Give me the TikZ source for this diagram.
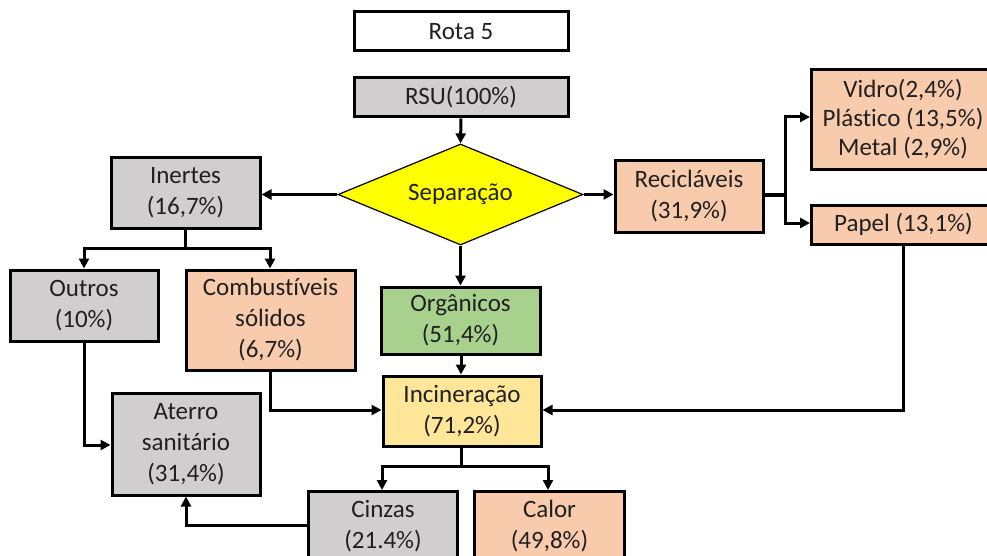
\documentclass[tikz,border=0pt]{standalone}
\usepackage{fontspec}
\setmainfont[Ligatures=NoCommon]{Carlito}
\usetikzlibrary{shapes.geometric,arrows.meta}
\definecolor{cgray}{HTML}{D0CECE}
\definecolor{corange}{HTML}{F8CBAD}
\definecolor{cgreen}{HTML}{A9D18E}
\definecolor{cyellow}{HTML}{FFE699}
\definecolor{cdiam}{HTML}{FFFF00}
\definecolor{ctext}{HTML}{202020}
\begin{document}
\begin{tikzpicture}[x=1pt,y=-1pt,
  txt/.style={align=center,font=\fontsize{25}{31}\selectfont,text=ctext,inner sep=0pt},
  box/.style={draw=black,line width=3pt,txt},
  conn/.style={line width=3pt,-{Triangle[length=10pt,width=10pt]}},
  plain/.style={line width=3pt}]
\useasboundingbox (0,0) rectangle (987,556);
\clip (0,0) rectangle (987,556);
% boxes: name, left, top, right, bottom, fill, text
\newcommand\bx[7]{%
  \node[box,fill=#6,minimum width=#4-#2,minimum height=#5-#3] (#1) at ({(#2+#4)/2},{(#3+#5)/2}) {#7};}
\bx{rota}{354}{12}{568}{51}{white}{Rota 5}
\bx{rsu}{354}{78}{568}{117}{cgray}{RSU(100\%)}
\node[diamond,draw=black,line width=1.2pt,fill=cdiam,minimum width=245pt,minimum height=101pt,inner sep=0pt,aspect=2.43,txt] (sep) at (460.5,194.5) {Separação};
\bx{inert}{111}{158}{260}{228}{cgray}{Inertes\\(16,7\%)}
\bx{outros}{10}{270}{158}{341}{cgray}{Outros\\(10\%)}
\bx{comb}{186}{270}{355}{370}{corange}{Combustíveis\\sólidos\\(6,7\%)}
\bx{org}{381}{287}{540}{354}{cgreen}{Orgânicos\\(51,4\%)}
\bx{inc}{383}{376}{541}{446}{cyellow}{Incineração\\(71,2\%)}
\bx{aterro}{112}{393}{260}{495}{cgray}{Aterro\\sanitário\\(31,4\%)}
\node[box,fill=cgray,minimum width=149pt,minimum height=100pt,anchor=north west] (cinzas) at (307,490) {};
\node[txt,anchor=north] at (cinzas.north) [yshift=-10pt] {Cinzas\\(21.4\%)};
\node[box,fill=corange,minimum width=150pt,minimum height=100pt,anchor=north west] (calor) at (473,490) {};
\node[txt,anchor=north] at (calor.north) [yshift=-10pt] {Calor\\(49,8\%)};
\bx{recic}{615}{161}{763}{232}{corange}{Recicláveis\\(31,9\%)}
\node[box,fill=corange,minimum width=190pt,minimum height=100pt,anchor=north west] (vidro) at (810,68) {};
\node[txt,font=\fontsize{25}{29}\selectfont] at (903,119) {Vidro(2,4\%)\\Plástico (13,5\%)\\Metal (2,9\%)};
\node[box,fill=corange,minimum width=190pt,minimum height=39pt,anchor=north west] (papel) at (810,204) {};
\node[txt] at (903.5,224) {Papel (13,1\%)};
% connectors
\draw[conn] (rsu.south) -- (sep.north);
\draw[conn] (sep.west) -- (inert.east |- sep.west);
\draw[conn] (sep.east) -- (recic.west |- sep.east);
\draw[conn] (sep.south) -- (org.north -| sep.south);
\draw[plain] (inert.south -| 185,0) -- (185,248);
\draw[conn] (84,248) -- (outros.north -| 84,0);
\draw[conn] (270,248) -- (comb.north -| 270,0);
\draw[plain] (82.5,248) -- (271.5,248);
\draw[conn] (outros.south -| 84,0) |- (aterro.west |- 0,445);
\draw[conn] (comb.south -| 270,0) |- (inc.west |- 0,410);
\draw[conn] (org.south -| 461,0) -- (inc.north -| 461,0);
\draw[conn] (papel.south -| 903,0) |- (inc.east |- 0,410);
\draw[plain] (recic.east |- 0,195) -- (785,195);
\draw[conn] (785,195) |- (vidro.west |- 0,117);
\draw[conn] (785,195) |- (papel.west |- 0,223);
\draw[plain] (inc.south -| 461,0) -- (461,466);
\draw[plain] (380.5,466) -- (549.5,466);
\draw[conn] (382,466) -- (cinzas.north -| 382,0);
\draw[conn] (548,466) -- (calor.north -| 548,0);
\draw[conn] (cinzas.west |- 0,525) -| (aterro.south -| 186,0);
\end{tikzpicture}
\end{document}
